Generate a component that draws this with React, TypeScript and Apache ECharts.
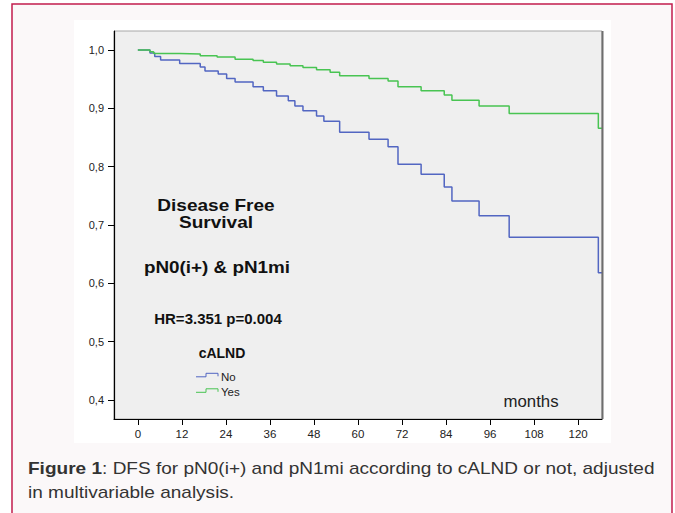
import React, { useEffect, useRef } from 'react';
import * as echarts from 'echarts';

// Kaplan-Meier DFS curves (months, survival probability)
const noMonths = [0, 3.3, 4.6, 6.2, 11.4, 17, 18.3, 21.9, 24.2, 26.5, 31.4, 34.2, 37.8, 41, 42.8, 45, 48.7, 50.7, 55, 63, 68.2, 70.9, 77.2, 83.5, 85.6, 93, 101.2, 125.5, 126.5];
const noSurvival = [1.0, 0.995, 0.989, 0.983, 0.977, 0.971, 0.964, 0.959, 0.951, 0.945, 0.937, 0.93, 0.921, 0.913, 0.904, 0.896, 0.887, 0.878, 0.859, 0.847, 0.834, 0.804, 0.787, 0.765, 0.741, 0.716, 0.679, 0.618, 0.618];

const yesMonths = [0, 3.3, 4.3, 11.4, 17, 21.6, 26.5, 31.4, 34.2, 37.8, 41.5, 45, 48.7, 52.4, 55, 63, 68.2, 70.9, 77.2, 83.5, 85.6, 93, 101.2, 125.5, 126.5];
const yesSurvival = [1.0, 0.997, 0.994, 0.993, 0.99, 0.988, 0.984, 0.982, 0.979, 0.976, 0.973, 0.97, 0.966, 0.962, 0.956, 0.951, 0.947, 0.937, 0.93, 0.923, 0.914, 0.904, 0.891, 0.866, 0.866];

const xTicks = [0, 12, 24, 36, 48, 60, 72, 84, 96, 108, 120];
const yTicks = [0.4, 0.5, 0.6, 0.7, 0.8, 0.9, 1.0];

const seriesNames = ['No', 'Yes'];
const BLUE = '#5266c2';
const GREEN = '#48c452';
const FONT = 'Arial, "Liberation Sans", sans-serif';

export default function App() {
  const ref = useRef<HTMLDivElement>(null);
  useEffect(() => {
    if (!ref.current) return;
    const chart = echarts.init(ref.current, null, { renderer: 'svg' });
    const zip = (a: number[], b: number[]) => a.map((v, i) => [v, b[i]]);
    const legendIcon = (y: number, color: string) => ({
      type: 'polyline', z: 10,
      shape: { points: [[196, y + 3.5], [206, y + 3.5], [206, y], [218, y], [218, y + 3]] },
      style: { stroke: color, lineWidth: 1, fill: 'none' },
    });
    const legendText = (y: number, text: string) => ({
      type: 'text', z: 10, x: 221, y,
      style: { text, fontSize: 11.5, fontFamily: FONT, fill: '#222', textVerticalAlign: 'middle' },
    });
    chart.setOption({
      animation: false,
      backgroundColor: '#ffffff',
      textStyle: { fontFamily: FONT },
      grid: {
        left: 114, right: 73, top: 31, bottom: 94,
        show: true, backgroundColor: '#efefef', borderColor: '#a8a8a8', borderWidth: 1,
        containLabel: false, outerBoundsMode: 'none',
      },
      xAxis: {
        type: 'value', min: -6.5, max: 126.5,
        axisLine: { show: true, onZero: false, lineStyle: { color: '#000', width: 1.2 } },
        axisTick: { show: true, customValues: xTicks, length: 6, lineStyle: { color: '#000' } },
        axisLabel: { customValues: xTicks, margin: 9, fontSize: 11.5, color: '#222', fontFamily: FONT },
        splitLine: { show: false },
      },
      yAxis: {
        type: 'value', min: 0.3674, max: 1.0326,
        axisLine: { show: true, onZero: false, lineStyle: { color: '#000', width: 1.2 } },
        axisTick: { show: true, customValues: yTicks, length: 6, lineStyle: { color: '#000' } },
        axisLabel: {
          customValues: yTicks, margin: 10, fontSize: 11, color: '#222', fontFamily: FONT,
          formatter: (v: number) => v.toFixed(1).replace('.', ','),
        },
        splitLine: { show: false },
      },
      series: [
        {
          name: seriesNames[0], type: 'line', step: 'end', showSymbol: false, symbol: 'none',
          data: zip(noMonths, noSurvival), lineStyle: { color: BLUE, width: 1.5 }, itemStyle: { color: BLUE },
        },
        {
          name: seriesNames[1], type: 'line', step: 'end', showSymbol: false, symbol: 'none',
          data: zip(yesMonths, yesSurvival), lineStyle: { color: GREEN, width: 1.5 }, itemStyle: { color: GREEN },
        },
      ],
      graphic: [
        { type: 'rect', z: -10, shape: { x: 12, y: 4, width: 660, height: 520 },
          style: { fill: '#fbf8f9', stroke: '#c21d4e', lineWidth: 1.5 } },
        { type: 'rect', z: -9, shape: { x: 74, y: 20, width: 537, height: 423 }, style: { fill: '#ffffff' } },
        { type: 'line', z: 5, shape: { x1: 602.5, y1: 31, x2: 602.5, y2: 419 }, style: { stroke: '#6e6e6e', lineWidth: 2 } },
        { type: 'text', z: 10, x: 216, y: 205, scaleX: 1.12,
          style: { text: 'Disease Free', fontSize: 17, fontWeight: 'bold', fontFamily: FONT, fill: '#111', textAlign: 'center', textVerticalAlign: 'middle' } },
        { type: 'text', z: 10, x: 216, y: 222, scaleX: 1.12,
          style: { text: 'Survival', fontSize: 17, fontWeight: 'bold', fontFamily: FONT, fill: '#111', textAlign: 'center', textVerticalAlign: 'middle' } },
        { type: 'text', z: 10, x: 217, y: 267, scaleX: 1.11,
          style: { text: 'pN0(i+) & pN1mi', fontSize: 17, fontWeight: 'bold', fontFamily: FONT, fill: '#111', textAlign: 'center', textVerticalAlign: 'middle' } },
        { type: 'text', z: 10, x: 218, y: 318,
          style: { text: 'HR=3.351 p=0.004', fontSize: 15, fontWeight: 'bold', fontFamily: FONT, fill: '#111', textAlign: 'center', textVerticalAlign: 'middle' } },
        { type: 'text', z: 10, x: 222, y: 353,
          style: { text: 'cALND', fontSize: 14, fontWeight: 'bold', fontFamily: FONT, fill: '#111', textAlign: 'center', textVerticalAlign: 'middle' } },
        legendIcon(373.3, BLUE),
        legendText(377, seriesNames[0]),
        legendIcon(388.8, GREEN),
        legendText(391.5, seriesNames[1]),
        { type: 'text', z: 10, x: 531, y: 401, scaleX: 1.05,
          style: { text: 'months', fontSize: 16, fontFamily: FONT, fill: '#222', textAlign: 'center', textVerticalAlign: 'middle' } },
        { type: 'text', z: 10, x: 28, y: 468, scaleX: 1.12,
          style: {
            text: '{b|Figure 1}: DFS for pN0(i+) and pN1mi according to cALND or not, adjusted',
            fontSize: 17, fontFamily: FONT, fill: '#333', textVerticalAlign: 'middle',
            rich: { b: { fontWeight: 'bold', fontSize: 17, fontFamily: FONT, fill: '#333' } },
          } },
        { type: 'text', z: 10, x: 28, y: 492, scaleX: 1.12,
          style: { text: 'in multivariable analysis.', fontSize: 17, fontFamily: FONT, fill: '#333', textVerticalAlign: 'middle' } },
      ],
    });
    return () => chart.dispose();
  }, []);
  return <div ref={ref} style={{ position: 'absolute', left: 0, top: 0, width: 675, height: 513 }} />;
}
